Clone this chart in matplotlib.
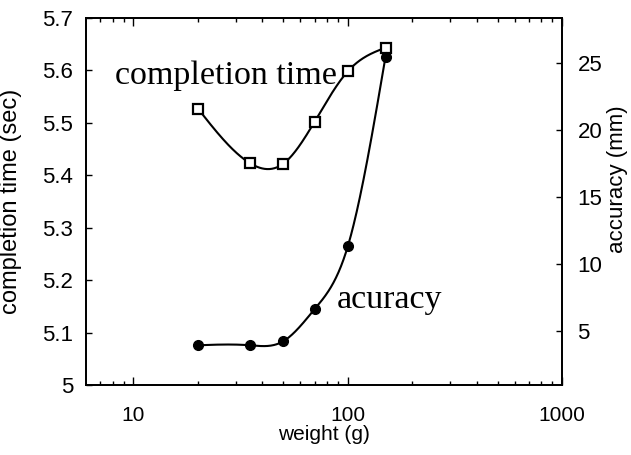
import numpy as np
import matplotlib
matplotlib.use("Agg")
import matplotlib.pyplot as plt
from matplotlib.ticker import FixedLocator, NullFormatter

weight = [20, 35, 50, 70, 100, 150]
completion_time = [5.527, 5.423, 5.422, 5.502, 5.598, 5.643]
accuracy = [3.9, 3.9, 4.2, 6.6, 11.3, 25.5]


def natural_spline(x, y, n=300):
    # natural cubic spline through the points, used only to draw a smooth line
    x = np.asarray(x, float)
    y = np.asarray(y, float)
    k = len(x)
    h = np.diff(x)
    A = np.zeros((k, k))
    b = np.zeros(k)
    A[0, 0] = A[-1, -1] = 1
    for i in range(1, k - 1):
        A[i, i - 1] = h[i - 1]
        A[i, i] = 2 * (h[i - 1] + h[i])
        A[i, i + 1] = h[i]
        b[i] = 3 * ((y[i + 1] - y[i]) / h[i] - (y[i] - y[i - 1]) / h[i - 1])
    c = np.linalg.solve(A, b)
    xs = np.linspace(x[0], x[-1], n)
    idx = np.clip(np.searchsorted(x, xs) - 1, 0, k - 2)
    dx = xs - x[idx]
    bb = (y[1:] - y[:-1]) / h - h * (2 * c[:-1] + c[1:]) / 3
    dd = (c[1:] - c[:-1]) / (3 * h)
    ys = y[idx] + bb[idx] * dx + c[idx] * dx ** 2 + dd[idx] * dx ** 3
    return xs, ys


plt.rcParams['font.family'] = ['Liberation Sans', 'DejaVu Sans']

fig = plt.figure(figsize=(6.31, 4.55), dpi=100)
ax = fig.add_axes([0.136, 0.153, 0.755, 0.808])
ax2 = ax.twinx()

lx = np.log10(weight)
sx, sy = natural_spline(lx, completion_time)
ax.plot(10 ** sx, sy, color="black", lw=1.5)
ax.plot(weight, completion_time, "s", ms=6.5, mfc="white", mec="black", mew=1.6)

sx, sy = natural_spline(lx, accuracy)
ax2.plot(10 ** sx, sy, color="black", lw=1.5)
ax2.plot(weight, accuracy, "o", ms=7, color="black")

ax.set_xscale("log")
ax.set_xlim(6, 1000)
ax.set_ylim(5, 5.7)
ax2.set_ylim(0.9, 28.4)

ax.set_yticks(np.arange(5, 5.71, 0.1))
ax.set_yticklabels(["5", "5.1", "5.2", "5.3", "5.4", "5.5", "5.6", "5.7"])
ax.set_xticks([10, 100, 1000])
ax.set_xticklabels(["10", "100", "1000"])
ax.xaxis.set_minor_locator(FixedLocator([7, 8, 9, 20, 30, 40, 50, 60, 70, 80, 90,
                                         200, 300, 400, 500, 600, 700, 800, 900]))
ax.xaxis.set_minor_formatter(NullFormatter())
ax2.set_yticks([5, 10, 15, 20, 25])

ax.tick_params(axis="x", which="major", direction="in", top=True, length=6, width=1,
               pad=15, labelsize=15)
ax.tick_params(axis="x", which="minor", direction="in", top=True, length=3, width=1)
ax.tick_params(axis="y", direction="in", length=4, width=1, pad=9, labelsize=16)
ax2.tick_params(axis="y", direction="in", length=4, width=1, pad=11, labelsize=16)

for a in (ax, ax2):
    for s in a.spines.values():
        s.set_linewidth(1.3)

ax.set_xlabel("weight (g)", fontsize=15, labelpad=0)
ax.set_ylabel("completion time (sec)", fontsize=17)
ax2.set_ylabel("accuracy (mm)", fontsize=16, rotation=90)
ax.yaxis.set_label_coords(-0.135, 0.5)
ax2.yaxis.set_label_coords(1.095, 0.56)

ax.text(8.2, 5.59, "completion time", family="Liberation Serif", fontsize=24.5, va="center")
ax.text(89, 5.163, "acuracy", family="Liberation Serif", fontsize=24.5, va="center")

fig.savefig("out.png", dpi=100)
